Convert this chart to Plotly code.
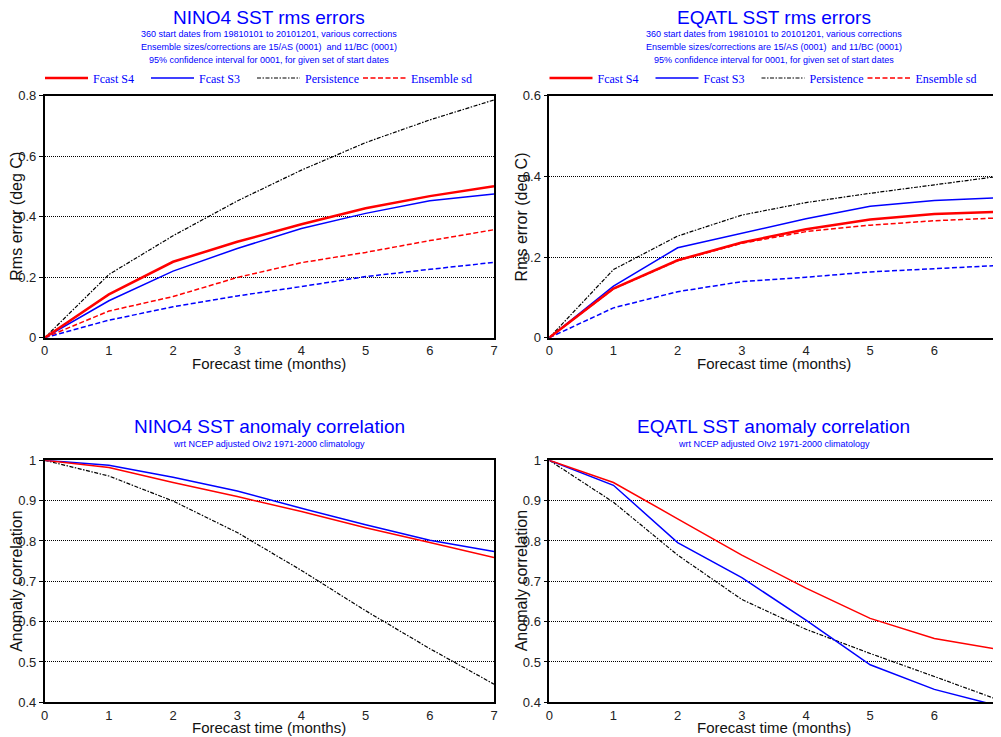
import plotly.graph_objects as go

# ---------------- data ----------------
lead = [0, 1, 2, 3, 4, 5, 6, 7]

nino4_rms_s4 = [0, 0.143, 0.251, 0.317, 0.375, 0.428, 0.468, 0.501]
nino4_rms_s3 = [0, 0.122, 0.220, 0.295, 0.361, 0.411, 0.453, 0.475]
nino4_rms_pers = [0, 0.209, 0.337, 0.452, 0.554, 0.645, 0.720, 0.786]
nino4_sd_s4 = [0, 0.088, 0.136, 0.199, 0.248, 0.282, 0.321, 0.357]
nino4_sd_s3 = [0, 0.058, 0.102, 0.138, 0.169, 0.202, 0.226, 0.249]

eqatl_rms_s4 = [0, 0.122, 0.192, 0.236, 0.269, 0.293, 0.307, 0.312]
eqatl_rms_s3 = [0, 0.128, 0.223, 0.259, 0.295, 0.326, 0.340, 0.347]
eqatl_rms_pers = [0, 0.169, 0.252, 0.304, 0.335, 0.358, 0.379, 0.400]
eqatl_sd_s4 = [0, 0.121, 0.191, 0.234, 0.263, 0.279, 0.290, 0.297]
eqatl_sd_s3 = [0, 0.074, 0.114, 0.139, 0.150, 0.163, 0.171, 0.179]

nino4_acc_s4 = [1, 0.982, 0.945, 0.910, 0.873, 0.833, 0.796, 0.759]
nino4_acc_s3 = [1, 0.988, 0.958, 0.924, 0.881, 0.840, 0.802, 0.774]
nino4_acc_pers = [1, 0.961, 0.899, 0.821, 0.727, 0.627, 0.533, 0.445]

eqatl_acc_s4 = [1, 0.945, 0.855, 0.765, 0.683, 0.608, 0.558, 0.531]
eqatl_acc_s3 = [1, 0.938, 0.796, 0.709, 0.604, 0.493, 0.432, 0.391]
eqatl_acc_pers = [1, 0.896, 0.765, 0.655, 0.581, 0.521, 0.464, 0.406]

legend_names = ["Fcast S4", "Fcast S3", "Persistence", "Ensemble sd"]

titles = ["NINO4 SST rms errors", "EQATL SST rms errors",
          "NINO4 SST anomaly correlation", "EQATL SST anomaly correlation"]
rms_sub = ["360 start dates from 19810101 to 20101201, various corrections",
           "Ensemble sizes/corrections are 15/AS (0001)  and 11/BC (0001)",
           "95% confidence interval for 0001, for given set of start dates"]
acc_sub = "wrt NCEP adjusted OIv2 1971-2000 climatology"
xtitle = "Forecast time (months)"
ytitles = ["Rms error (deg C)", "Rms error (deg C)", "Anomaly correlation", "Anomaly correlation"]

# ---------------- layout helpers ----------------
# page body has an 8px margin: the figure starts at (8, 8) and runs to the window edge
OFF = 8
W, H = 1001 - OFF, 737 - OFF
def px(x):
    return min(1.0, max(0.0, (x - OFF) / W))
def py(y):
    return min(1.0, max(0.0, 1 - (y - OFF) / H))

SANS = "Liberation Sans, Arial, sans-serif"
SERIF = "Liberation Serif, Times New Roman, serif"
BLUE = "#0000ff"
RED = "#ff0000"
DASH = "5px,2.5px"
DASHDOT = "4px,1.5px,1.5px,1.5px"

fig = go.Figure()

def add(xa, ya, y, color, width, dash, name=None, legend=None, show=False):
    fig.add_trace(go.Scatter(
        x=lead, y=y, mode="lines", xaxis=xa, yaxis=ya,
        line=dict(color=color, width=width, dash=dash),
        name=name if name else "", showlegend=show,
        legend=legend if legend else "legend", hoverinfo="skip"))

# top-left
add("x", "y", nino4_rms_pers, "black", 1.2, DASHDOT, legend_names[2], "legend", True)
add("x", "y", nino4_sd_s3, BLUE, 1.5, DASH)
add("x", "y", nino4_sd_s4, RED, 1.5, DASH, legend_names[3], "legend", True)
add("x", "y", nino4_rms_s3, BLUE, 1.5, "solid", legend_names[1], "legend", True)
add("x", "y", nino4_rms_s4, RED, 2.5, "solid", legend_names[0], "legend", True)
# top-right
add("x2", "y2", eqatl_rms_pers, "black", 1.2, DASHDOT, legend_names[2], "legend2", True)
add("x2", "y2", eqatl_sd_s3, BLUE, 1.5, DASH)
add("x2", "y2", eqatl_sd_s4, RED, 1.5, DASH, legend_names[3], "legend2", True)
add("x2", "y2", eqatl_rms_s3, BLUE, 1.5, "solid", legend_names[1], "legend2", True)
add("x2", "y2", eqatl_rms_s4, RED, 2.5, "solid", legend_names[0], "legend2", True)
# bottom-left
add("x3", "y3", nino4_acc_pers, "black", 1.2, DASHDOT)
add("x3", "y3", nino4_acc_s3, BLUE, 1.5, "solid")
add("x3", "y3", nino4_acc_s4, RED, 1.5, "solid")
# bottom-right
add("x4", "y4", eqatl_acc_pers, "black", 1.2, DASHDOT)
add("x4", "y4", eqatl_acc_s3, BLUE, 1.5, "solid")
add("x4", "y4", eqatl_acc_s4, RED, 1.5, "solid")

left_dom = [px(44.7), px(494)]
right_dom = [px(549.3), px(998.5)]
top_dom = [py(337.7), py(95.7)]
bot_dom = [py(702.3), py(460.3)]

def xax(dom, anchor):
    return dict(domain=dom, anchor=anchor, range=[0, 7], dtick=1, tick0=0,
                showline=True, mirror=True, linecolor="black", linewidth=1.5,
                ticks="", showgrid=False, automargin=False, ticklabeloverflow="allow",
                zeroline=False, tickfont=dict(family=SANS, size=13, color="#222"),
                fixedrange=True)

def yax(dom, anchor, rng, dt):
    return dict(domain=dom, anchor=anchor, range=rng, dtick=dt, tick0=0,
                showline=True, mirror=True, linecolor="black", linewidth=1.5,
                ticks="outside", ticklen=4, tickcolor="black", showgrid=True,
                gridcolor="black", gridwidth=1, griddash="1px,1px", zeroline=False,
                automargin=False, ticklabeloverflow="allow",
                tickfont=dict(family=SANS, size=13, color="#222"), fixedrange=True)

leg_common = dict(orientation="h", font=dict(family=SERIF, size=12, color=BLUE),
                  bgcolor="rgba(0,0,0,0)", xanchor="left", yanchor="middle",
                  itemwidth=43, entrywidth=48, entrywidthmode="pixels",
                  traceorder="normal", tracegroupgap=0,
                  itemclick=False, itemdoubleclick=False)

fig.update_layout(
    width=W, height=H, autosize=False,
    margin=dict(l=0, r=0, t=0, b=0, pad=0, autoexpand=False),
    paper_bgcolor="white", plot_bgcolor="white",
    xaxis=xax(left_dom, "y"), yaxis=yax(top_dom, "x", [0, 0.8], 0.2),
    xaxis2=xax(right_dom, "y2"), yaxis2=yax(top_dom, "x2", [0, 0.6], 0.2),
    xaxis3=xax(left_dom, "y3"), yaxis3=yax(bot_dom, "x3", [0.4, 1], 0.1),
    xaxis4=xax(right_dom, "y4"), yaxis4=yax(bot_dom, "x4", [0.4, 1], 0.1),
    legend=dict(x=px(40), y=py(78), **leg_common),
    legend2=dict(x=px(544.5), y=py(78), **leg_common),
    showlegend=True,
)

rank = {legend_names[0]: 1, legend_names[1]: 2, legend_names[2]: 3, legend_names[3]: 4}
for tr in fig.data:
    if tr.showlegend:
        tr.legendrank = rank[tr.name]
        if tr.name == legend_names[3]:
            tr.legendwidth = 70

ann = []
centers = [269.4, 773.9]
for i, c in enumerate(centers):
    ann.append(dict(text=titles[i], x=px(c), y=py(17.5), xref="paper", yref="paper",
                    showarrow=False, font=dict(family=SANS, size=19, color=BLUE),
                    xanchor="center", yanchor="middle"))
    for j, s in enumerate(rms_sub):
        ann.append(dict(text=s, x=px(c), y=py([34.3, 47, 60][j]), xref="paper", yref="paper",
                        showarrow=False, font=dict(family=SANS, size=9, color=BLUE),
                        xanchor="center", yanchor="middle"))
    ann.append(dict(text=titles[i + 2], x=px(c), y=py(426.7), xref="paper", yref="paper",
                    showarrow=False, font=dict(family=SANS, size=19, color=BLUE),
                    xanchor="center", yanchor="middle"))
    ann.append(dict(text=acc_sub, x=px(c), y=py(444.3), xref="paper", yref="paper",
                    showarrow=False, font=dict(family=SANS, size=9, color=BLUE),
                    xanchor="center", yanchor="middle"))
    for yy in [363, 727]:
        ann.append(dict(text=xtitle, x=px(c), y=py(yy), xref="paper", yref="paper",
                        showarrow=False, font=dict(family=SANS, size=15, color="#111"),
                        xanchor="center", yanchor="middle"))

ypos = [(17, 216.7), (521.7, 216.7), (16.5, 581.3), (521, 581.3)]
for i, (xx, yy) in enumerate(ypos):
    ann.append(dict(text=ytitles[i], x=px(xx), y=py(yy), xref="paper", yref="paper",
                    showarrow=False, textangle=-90,
                    font=dict(family=SANS, size=16, color="#111"),
                    xanchor="center", yanchor="middle"))

fig.update_layout(annotations=ann)

fig.write_html("out.html")
